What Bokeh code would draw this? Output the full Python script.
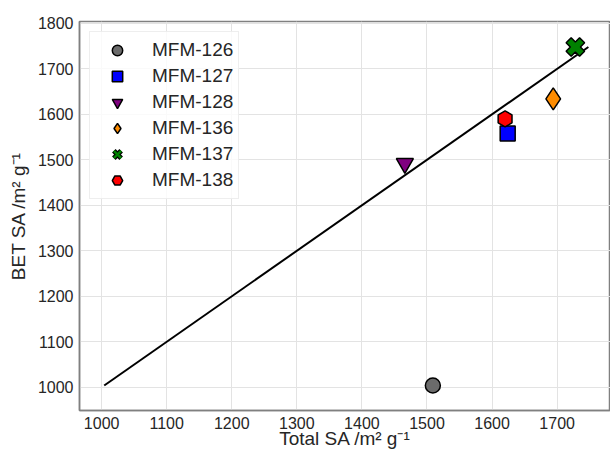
import math
import numpy as np
from bokeh.plotting import figure
from bokeh.models import ColumnDataSource, Legend, LegendItem, Range1d, FixedTicker
from bokeh.embed import file_html
from bokeh.resources import INLINE

# data
names = ["MFM-126", "MFM-127", "MFM-128", "MFM-136", "MFM-137", "MFM-138"]
total_sa = [1509, 1624, 1466, 1694, 1728, 1620]
bet_sa = [1004, 1558, 1492, 1634, 1748, 1590]
markers = ["circle", "square", "inverted_triangle", "diamond", "plus", "hex"]
colors = ["#6b6b6b", "#0000ff", "#800080", "#ff8c00", "#008000", "#ff0000"]
sizes = [15, 15, 17, 22, 19, 16]
angles = [0, 0, 0, 0, math.pi / 4, math.pi / 2]
line_x = [1004, 1748]
line_y = [1004, 1748]
ticks = [1000, 1100, 1200, 1300, 1400, 1500, 1600, 1700, 1800]

FONT = "Liberation Sans"

p = figure(width=610, height=452, output_backend="svg", toolbar_location=None,
           x_range=Range1d(966, 1782), y_range=Range1d(949, 1804),
           min_border_left=79, min_border_top=21, min_border_bottom=42, min_border_right=0)
p.background_fill_color = "white"
p.border_fill_color = "white"
p.outline_line_color = "#808080"
p.outline_line_width = 1.5

p.xaxis.axis_label = "Total SA /m² g⁻¹"
p.yaxis.axis_label = "BET SA /m² g⁻¹"
for ax in (p.xaxis[0], p.yaxis[0]):
    ax.ticker = FixedTicker(ticks=ticks)
    ax.axis_label_text_font = FONT
    ax.axis_label_text_font_size = "19px"
    ax.axis_label_text_font_style = "normal"
    ax.axis_label_text_color = "#262626"
    ax.major_label_text_font = FONT
    ax.major_label_text_font_size = "16px"
    ax.major_label_text_color = "#262626"
    ax.major_tick_out = 0
    ax.major_tick_in = 0
    ax.minor_tick_out = 0
    ax.minor_tick_in = 0
    ax.axis_line_color = "#808080"
    ax.axis_line_width = 1.5
    ax.major_label_standoff = 6
    ax.axis_label_standoff = 6
p.xaxis.major_label_standoff = 6
p.xaxis.axis_label_standoff = -4
p.yaxis.major_label_orientation = "horizontal"
p.grid.grid_line_color = "#e3e3e3"
p.grid.grid_line_width = 1
p.xgrid.ticker = FixedTicker(ticks=ticks)
p.ygrid.ticker = FixedTicker(ticks=ticks)

p.line(line_x, line_y, line_color="black", line_width=2)

items = []
for i in range(len(names)):
    src = ColumnDataSource(dict(x=[total_sa[i]], y=[bet_sa[i]]))
    r = p.scatter("x", "y", source=src, marker=markers[i], size=sizes[i],
                  angle=angles[i], fill_color=colors[i], line_color="black",
                  line_width=1.5)
    rends = [r]
    if markers[i] == "plus":
        # legend-only X glyph (outlined), with a NaN point so nothing is drawn in the plot
        nan_src = ColumnDataSource(dict(x=np.array([np.nan]), y=np.array([np.nan])))
        r1 = p.scatter("x", "y", source=nan_src, marker="x", size=10,
                       line_color="black", line_width=5)
        r2 = p.scatter("x", "y", source=nan_src, marker="x", size=10,
                       line_color=colors[i], line_width=2.5)
        rends = [r1, r2]
    items.append(LegendItem(label=names[i], renderers=rends))

legend = Legend(items=items, location="top_left", margin=10, padding=5,
                glyph_width=44, glyph_height=26, spacing=0, label_standoff=13,
                label_text_font=FONT, label_text_font_size="19px",
                label_text_color="#262626",
                border_line_color="#dddddd", border_line_width=1,
                background_fill_color="white", background_fill_alpha=0.8)
p.add_layout(legend)

open("out.html", "w").write(file_html(p, INLINE))
